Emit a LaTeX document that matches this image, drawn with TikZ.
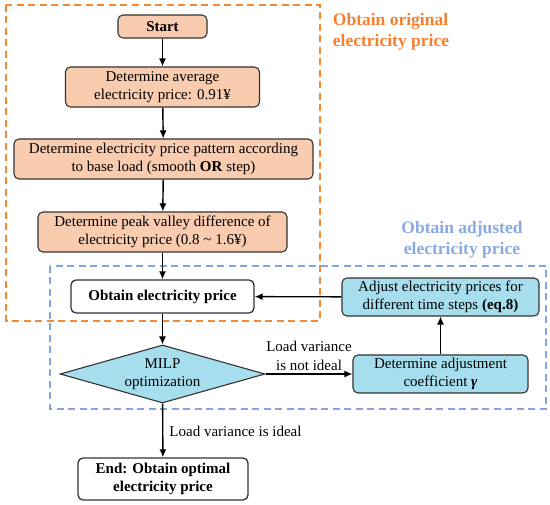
\documentclass[tikz,border=0pt]{standalone}
\usepackage{fontspec}
\setmainfont{Liberation Serif}
\usetikzlibrary{shapes.geometric,arrows.meta}
\definecolor{peach}{RGB}{249,203,175}
\definecolor{orangeline}{RGB}{246,136,52}
\definecolor{orangetext}{RGB}{246,128,48}
\definecolor{cyanfill}{RGB}{166,222,238}
\definecolor{blueline}{RGB}{128,165,226}
\definecolor{bluetext}{RGB}{138,170,226}
\begin{document}
\begin{tikzpicture}[x=1pt,y=-1pt,
  base/.style={draw=black!80, line width=1.1pt, rounded corners=5pt, align=center,
    inner sep=0pt, font=\fontsize{15}{18.5}\selectfont},
  obox/.style={base, fill=peach},
  cbox/.style={base, fill=cyanfill},
  wbox/.style={base, fill=white, line width=1.3pt},
  flow/.style={line width=1.4pt, -{Latex[length=8pt,width=7pt]}},
  odash/.style={draw=orangeline, line width=1.8pt, dash pattern=on 7pt off 4.5pt},
  bdash/.style={draw=blueline, line width=1.5pt, dash pattern=on 7pt off 4.5pt},
  lbl/.style={align=center, font=\fontsize{15}{18.5}\selectfont, inner sep=0pt}
]
\useasboundingbox (0,0) rectangle (550,505);
% group frames
\draw[bdash] (50,266) rectangle (546,409);
\draw[odash] (6,5) rectangle (320,321);
\node[lbl, text=orangetext, font=\bfseries\fontsize{17.5}{21}\selectfont, align=left] (olab) at (391,32) {Obtain original\\electricity price};
\node[lbl, text=bluetext, font=\bfseries\fontsize{17.5}{21}\selectfont, align=center] (blab) at (462,240) {Obtain adjusted\\electricity price};
% nodes
\node[obox, minimum width=89pt, minimum height=23pt] (start) at (162.5,26.5) {\textbf{Start}};
\node[obox, minimum width=194pt, minimum height=40pt] (avg) at (162.5,87) {Determine average\\electricity price: 0.91¥};
\node[obox, minimum width=299pt, minimum height=40pt] (pat) at (163.5,159) {Determine electricity price pattern according\\to base load (smooth \textbf{OR} step)};
\node[obox, minimum width=249pt, minimum height=40pt] (peak) at (162.5,232) {Determine peak valley difference of\\electricity price (0.8 \textasciitilde{} 1.6¥)};
\node[wbox, minimum width=183pt, minimum height=33pt] (obt) at (162.5,296.5) {\textbf{Obtain electricity price}};
\node[draw=black!80, line width=1.1pt, fill=cyanfill, shape=diamond, aspect=3.5, inner sep=0pt,
  minimum width=205pt, minimum height=58pt, align=center, font=\fontsize{15}{18.5}\selectfont] (milp) at (162.5,374) {MILP\\optimization};
\node[wbox, minimum width=170pt, minimum height=42pt] (end) at (163,479) {\textbf{End: Obtain optimal}\\\textbf{electricity price}};
\node[cbox, minimum width=197pt, minimum height=38pt] (adj) at (440.5,297) {Adjust electricity prices for\\different time steps \textbf{(eq.8)}};
\node[cbox, minimum width=175pt, minimum height=38pt] (coef) at (440.5,374) {Determine adjustment\\coefficient \textbf{\textit{γ}}};
% connectors
\draw[flow] (start) -- (avg);
\draw[flow] (avg) -- (pat);
\draw[flow] (pat) -- (peak);
\draw[flow] (peak) -- (obt);
\draw[flow] (obt) -- (milp);
\draw[flow] (milp) -- node[lbl, right=6pt, pos=0.52] (ideal) {Load variance is ideal} (end);
\draw[flow] (milp.east) -- node[lbl, above=3pt, pos=0.5] (notideal) {Load variance\\is not ideal} (coef.west);
\draw[flow] (coef) -- (adj);
\draw[flow] (adj) -- (obt);
\end{tikzpicture}
\end{document}
